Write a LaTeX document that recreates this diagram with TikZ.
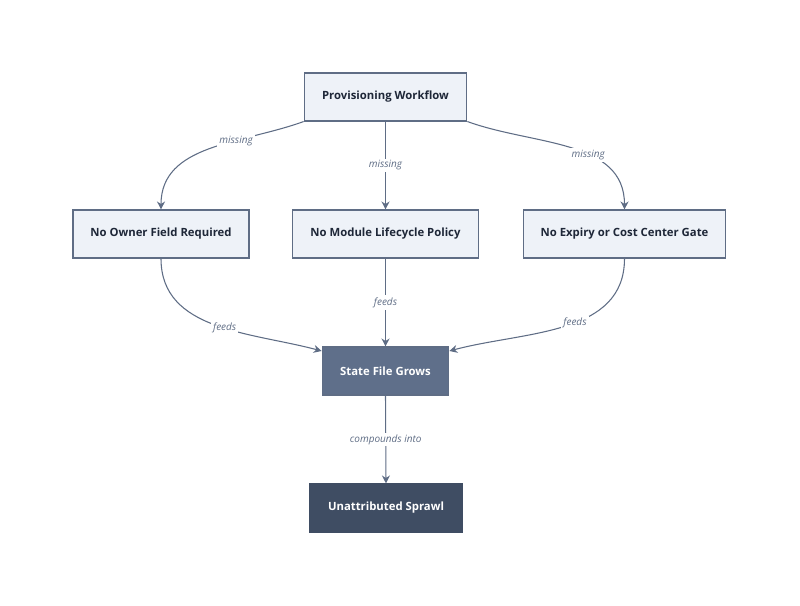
\documentclass[tikz,border=0pt]{standalone}
\usepackage{fontspec}
\setmainfont{Open Sans}
\usetikzlibrary{arrows.meta}
\definecolor{edgec}{HTML}{5F6D85}
\definecolor{lightbox}{HTML}{EEF2F8}
\definecolor{midbox}{HTML}{5F6F8A}
\definecolor{darkbox}{HTML}{3F4D63}
\definecolor{txtc}{HTML}{1E2738}
\tikzset{
  boxnode/.style={draw=edgec,thick,minimum height=36pt,inner xsep=12pt,font=\fontsize{8.5}{10}\selectfont\bfseries},
  lightnode/.style={boxnode,fill=lightbox,text=txtc},
  midnode/.style={boxnode,fill=midbox,text=white},
  darknode/.style={boxnode,fill=darkbox,draw=darkbox,text=white},
  link/.style={draw=edgec,thick,-{Stealth[length=6pt,width=6pt]}},
  lbl/.style={fill=white,inner sep=1.5pt,text=edgec,font=\fontsize{7.5}{9}\selectfont\itshape}
}
\begin{document}
\begin{tikzpicture}[x=0.75pt,y=-0.75pt]
    \useasboundingbox (0,0) rectangle (800,606);
    \node[lightnode,minimum width=122pt] (prov) at (385.5,97) {Provisioning Workflow};
    \node[lightnode,minimum width=132pt] (owner) at (161,234) {No Owner Field Required};
    \node[lightnode,minimum width=140pt] (module) at (385.5,234) {No Module Lifecycle Policy};
    \node[lightnode,minimum width=152pt] (expiry) at (624.5,234) {No Expiry or Cost Center Gate};
    \node[midnode,minimum width=95pt] (state) at (385.5,371) {State File Grows};
    \node[darknode,minimum width=114pt] (sprawl) at (386,508) {Unattributed Sprawl};
    % missing links
    \draw[link] (prov.south west) to[out=200,in=90] node[lbl,pos=0.35] {missing} (owner.north);
    \draw[link] (prov.south) -- node[lbl] {missing} (module.north);
    \draw[link] (prov.south east) to[out=-20,in=90] node[lbl,pos=0.6] {missing} (expiry.north);
    % feeds links
    \draw[link] (owner.south) to[out=-90,in=165] node[lbl,pos=0.55] {feeds} (state.north west|-0,351);
    \draw[link] (module.south) -- node[lbl] {feeds} (state.north);
    \draw[link] (expiry.south) to[out=-90,in=15] node[lbl,pos=0.45] {feeds} (state.north east|-0,351);
    \draw[link] (state.south) -- node[lbl] {compounds into} (sprawl.north);
\end{tikzpicture}
\end{document}
